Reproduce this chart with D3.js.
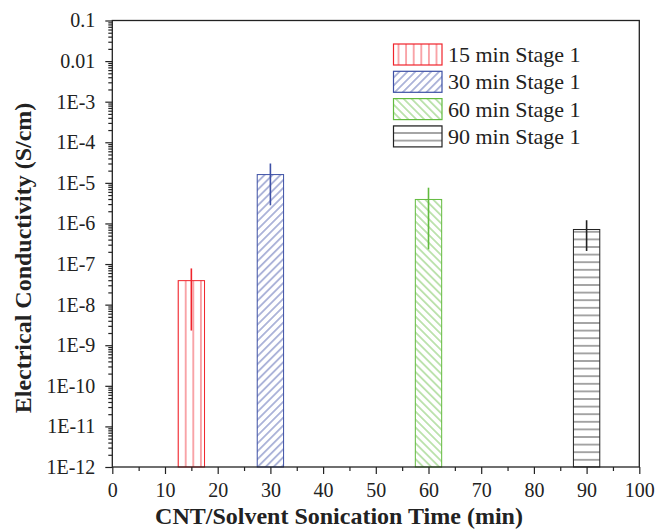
<!DOCTYPE html>
<html>
<head>
<meta charset="utf-8">
<script src="https://cdn.jsdelivr.net/npm/d3@7"></script>
<style>
  body { margin: 0; background: #fff; }
  text { font-family: 'Liberation Serif', 'Times New Roman', serif; }
</style>
</head>
<body>
<div class="svg"></div>
<script>
const width = 657
const height = 530

// data
const times = [15, 30, 60, 90]
const seriesNames = ['15 min Stage 1', '30 min Stage 1', '60 min Stage 1', '90 min Stage 1']
const conductivity = [3.9e-8, 1.6e-5, 3.9e-6, 7.1e-7]
const errLow = [2.3e-9, 2.8e-6, 2.3e-7, 2.1e-7]
const errHigh = [7.8e-8, 3.0e-5, 7.6e-6, 1.2e-6]
const xTicks = [0, 10, 20, 30, 40, 50, 60, 70, 80, 90, 100]
const yTicks = [1e-12, 1e-11, 1e-10, 1e-9, 1e-8, 1e-7, 1e-6, 1e-5, 1e-4, 1e-3, 0.01, 0.1]
const yTickLabels = ['1E-12', '1E-11', '1E-10', '1E-9', '1E-8', '1E-7', '1E-6', '1E-5', '1E-4', '1E-3', '0.01', '0.1']

const colors = ['#f0242c', '#3d50a6', '#62bb3e', '#222222']
const patterns = ['vert', 'diagUp', 'diagDown', 'horiz']

const plotLeft = 112.3
const plotRight = 639.3
const plotTop = 20.5
const plotBottom = 467

const svg = d3
  .select('.svg')
  .append('svg')
  .attr('width', width)
  .attr('height', height)

const xScale = d3.scaleLinear().domain([0, 100]).range([plotLeft, plotRight])
const yScale = d3.scaleLog().domain([1e-12, 0.1]).range([plotBottom, plotTop])

// hatch patterns
const defs = svg.append('defs')
patterns.forEach((p, i) => {
  let size = 7.6
  let rot = 0
  if (p === 'diagUp') { size = 5.6; rot = 45 }
  if (p === 'diagDown') { size = 5.6; rot = -45 }
  if (p === 'horiz') { rot = 90 }
  const pat = defs
    .append('pattern')
    .attr('id', 'pat' + i)
    .attr('patternUnits', 'userSpaceOnUse')
    .attr('x', p === 'vert' ? -0.5 : 0)
    .attr('width', size)
    .attr('height', size)
    .attr('patternTransform', 'rotate(' + rot + ')')
  pat
    .append('line')
    .attr('x1', size / 2)
    .attr('x2', size / 2)
    .attr('y1', -1)
    .attr('y2', size + 1)
    .attr('stroke', colors[i])
    .attr('stroke-width', 0.8)
})

// bars
svg
  .selectAll('rect.bar')
  .data(times)
  .enter()
  .append('rect')
  .attr('class', 'bar')
  .attr('x', d => xScale(d - 2.5))
  .attr('width', d => xScale(d + 2.5) - xScale(d - 2.5))
  .attr('y', (d, i) => yScale(conductivity[i]))
  .attr('height', (d, i) => plotBottom - yScale(conductivity[i]))
  .attr('fill', (d, i) => 'url(#pat' + i + ')')
  .attr('stroke', (d, i) => colors[i])
  .attr('stroke-width', 1)

// error bars
svg
  .selectAll('line.err')
  .data(times)
  .enter()
  .append('line')
  .attr('class', 'err')
  .attr('x1', d => xScale(d))
  .attr('x2', d => xScale(d))
  .attr('y1', (d, i) => yScale(errHigh[i]))
  .attr('y2', (d, i) => yScale(errLow[i]))
  .attr('stroke', (d, i) => colors[i])
  .attr('stroke-width', 1.6)

// axes
const xAxis = d3.axisBottom(xScale).tickValues(xTicks).tickSize(7).tickPadding(9).tickFormat(d3.format('d'))
const gx = svg
  .append('g')
  .attr('transform', 'translate(0,' + plotBottom + ')')
  .call(xAxis)
gx.select('.domain').remove()
svg
  .append('g')
  .attr('transform', 'translate(0,' + plotBottom + ')')
  .call(d3.axisBottom(xScale).tickValues(d3.range(5, 100, 10)).tickSize(4).tickFormat(''))
  .select('.domain').remove()

const minor = []
yTicks.slice(0, -1).forEach(p => {
  for (let k = 2; k <= 9; k++) minor.push(p * k)
})
const yAxis = d3.axisLeft(yScale).tickValues(yTicks).tickSize(7).tickPadding(10).tickFormat((d, i) => yTickLabels[i])
const gy = svg
  .append('g')
  .attr('transform', 'translate(' + plotLeft + ',0)')
  .call(yAxis)
gy.select('.domain').remove()
svg
  .append('g')
  .attr('transform', 'translate(' + plotLeft + ',0)')
  .call(d3.axisLeft(yScale).tickValues(minor).tickSize(4).tickFormat(''))
  .select('.domain').remove()

svg.selectAll('.tick line').attr('stroke', '#222').attr('stroke-width', 1.2)
svg
  .selectAll('.tick text')
  .attr('fill', '#222')
  .style('font-size', '20px')
  .style('font-family', "'Liberation Serif', serif")

// frame
svg
  .append('rect')
  .attr('x', plotLeft)
  .attr('y', plotTop)
  .attr('width', plotRight - plotLeft)
  .attr('height', plotBottom - plotTop)
  .attr('fill', 'none')
  .attr('stroke', '#222')
  .attr('stroke-width', 1.3)

// axis titles
svg
  .append('text')
  .attr('x', 339)
  .attr('y', 524)
  .attr('text-anchor', 'middle')
  .style('font-size', '24px')
  .style('font-weight', 'bold')
  .attr('fill', '#222')
  .text('CNT/Solvent Sonication Time (min)')

svg
  .append('text')
  .attr('transform', 'translate(31,258) rotate(-90)')
  .attr('text-anchor', 'middle')
  .style('font-size', '24px')
  .style('font-weight', 'bold')
  .attr('fill', '#222')
  .text('Electrical Conductivity (S/cm)')

// legend
const legend = svg.append('g')
seriesNames.forEach((name, i) => {
  const y0 = 44 + i * 27.3
  legend
    .append('rect')
    .attr('x', 393.5)
    .attr('y', y0)
    .attr('width', 48.5)
    .attr('height', 21)
    .attr('fill', 'url(#pat' + i + ')')
    .attr('stroke', colors[i])
    .attr('stroke-width', 1.2)
  legend
    .append('text')
    .attr('x', 448)
    .attr('y', y0 + 18)
    .style('font-size', '22px')
    .attr('fill', '#222')
    .text(name)
})
</script>
</body>
</html>
